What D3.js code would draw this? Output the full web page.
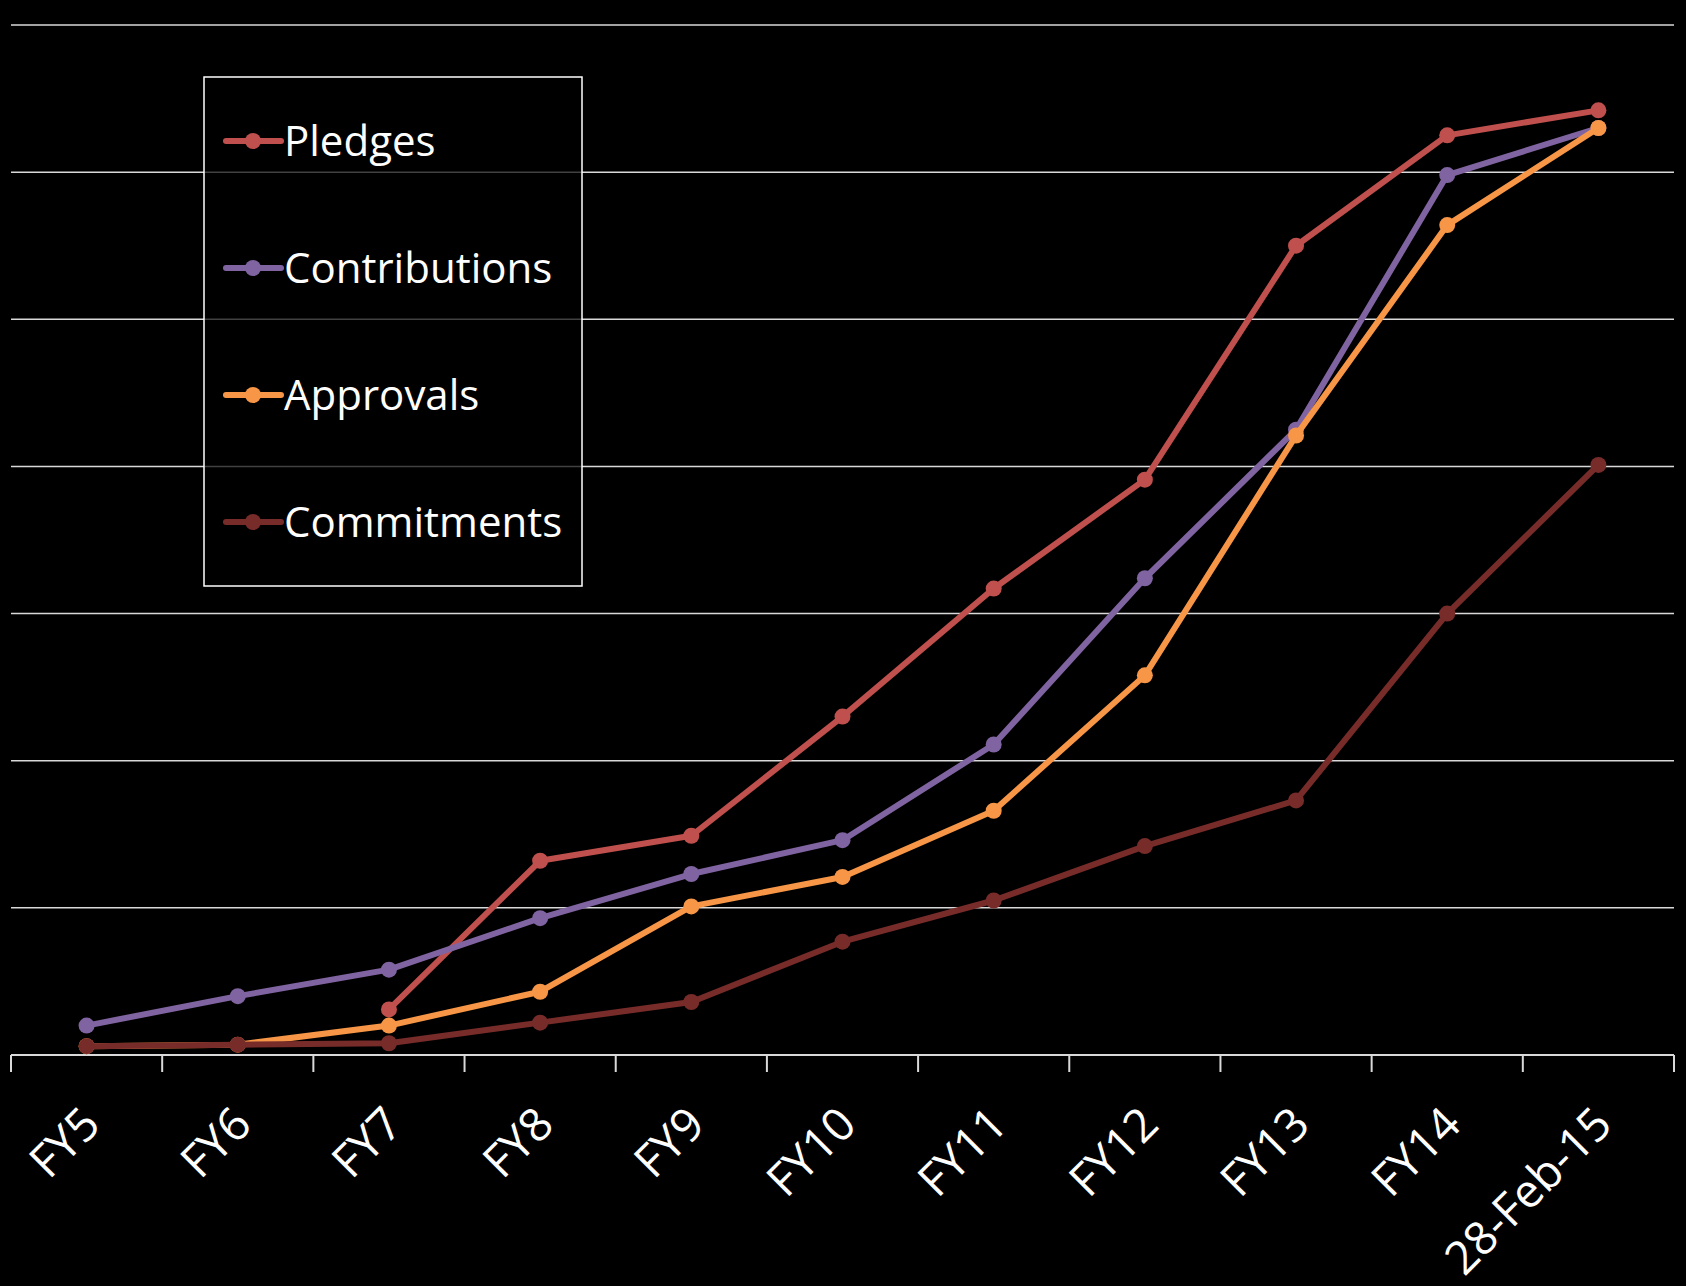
<!DOCTYPE html>
<html lang="en">
<head>
<meta charset="UTF-8">
<title>Pledges, contributions, approvals and commitments</title>
<script src="https://d3js.org/d3.v7.min.js"></script>
<style>
  body { margin: 0; background: #000; }
  text { font-family: "Open Sans", sans-serif; fill: #fff; }
</style>
</head>
<body>
<div id="chart"></div>
<script>
// categories along the x axis
const periods = ["FY5", "FY6", "FY7", "FY8", "FY9", "FY10", "FY11", "FY12", "FY13", "FY14", "28-Feb-15"];

// cumulative values, in gridline units (no y labels in the original)
const pledges      = [null, null, 0.31, 1.32, 1.49, 2.30, 3.17, 3.91, 5.50, 6.25, 6.42];
const contributions = [0.20, 0.40, 0.58, 0.93, 1.23, 1.46, 2.11, 3.24, 4.25, 5.98, 6.30];
const approvals    = [0.06, 0.07, 0.20, 0.43, 1.01, 1.21, 1.66, 2.58, 4.21, 5.64, 6.30];
const commitments  = [0.06, 0.07, 0.08, 0.22, 0.36, 0.77, 1.05, 1.42, 1.73, 3.00, 4.01];

const seriesNames = ["Pledges", "Contributions", "Approvals", "Commitments"];
const seriesColors = ["#c0504d", "#8064a2", "#f79646", "#772c2a"];
const seriesValues = [pledges, contributions, approvals, commitments];

const width = 1686, height = 1286;
const margin = {left: 11, right: 12, top: 25, bottom: 231};

const svg = d3.select("#chart").append("svg")
    .attr("width", width)
    .attr("height", height)
    .style("background", "#000");

const x = d3.scaleBand()
    .domain(periods)
    .range([margin.left, width - margin.right]);

const y = d3.scaleLinear()
    .domain([0, 7])
    .range([height - margin.bottom, margin.top]);

// horizontal gridlines
svg.append("g")
  .selectAll("line")
  .data(d3.range(1, 8))
  .join("line")
    .attr("x1", margin.left)
    .attr("x2", width - margin.right)
    .attr("y1", d => y(d))
    .attr("y2", d => y(d))
    .attr("stroke", "#d9d9d9")
    .attr("stroke-width", 1.5);

// x axis with ticks between categories
const xAxis = svg.append("g")
    .attr("transform", `translate(0,${y(0)})`);
xAxis.append("line")
    .attr("x1", margin.left).attr("x2", width - margin.right)
    .attr("stroke", "#d9d9d9").attr("stroke-width", 2);
xAxis.selectAll(".tick")
  .data(periods.concat([null]))
  .join("line")
    .attr("x1", (d, i) => margin.left + i * x.step())
    .attr("x2", (d, i) => margin.left + i * x.step())
    .attr("y1", 0).attr("y2", 17)
    .attr("stroke", "#d9d9d9").attr("stroke-width", 2);
xAxis.selectAll("text")
  .data(periods)
  .join("text")
    .attr("text-anchor", "end")
    .attr("transform", d => `translate(${x(d) + x.bandwidth() / 2 + 16},${72}) rotate(-45)`)
    .style("font-size", "46px")
    .text(d => d);

// lines and markers
const line = d3.line()
    .defined(d => d != null)
    .x((d, i) => x(periods[i]) + x.bandwidth() / 2)
    .y(d => y(d));

seriesValues.forEach((vals, s) => {
  svg.append("path")
    .datum(vals)
    .attr("d", line)
    .attr("fill", "none")
    .attr("stroke", seriesColors[s])
    .attr("stroke-width", 6)
    .attr("stroke-linejoin", "round");
  svg.append("g")
    .selectAll("circle")
    .data(vals.map((v, i) => ({v, p: periods[i]})).filter(d => d.v != null))
    .join("circle")
      .attr("cx", d => x(d.p) + x.bandwidth() / 2)
      .attr("cy", d => y(d.v))
      .attr("r", 8)
      .attr("fill", seriesColors[s]);
});

// legend
const legend = svg.append("g").attr("transform", "translate(204,77)");
legend.append("rect")
    .attr("width", 378).attr("height", 509)
    .attr("fill", "#000").attr("fill-opacity", 0.7)
    .attr("stroke", "#fff").attr("stroke-width", 1.5);
const rows = legend.selectAll(".row")
  .data(seriesNames)
  .join("g")
    .attr("transform", (d, i) => `translate(0,${64 + i * 127})`);
rows.append("line")
    .attr("x1", 22).attr("x2", 77)
    .attr("stroke", (d, i) => seriesColors[i])
    .attr("stroke-width", 6).attr("stroke-linecap", "round");
rows.append("circle")
    .attr("cx", 49).attr("r", 8)
    .attr("fill", (d, i) => seriesColors[i]);
rows.append("text")
    .attr("x", 80).attr("y", 15)
    .style("font-size", "42px")
    .text(d => d);
</script>
</body>
</html>
